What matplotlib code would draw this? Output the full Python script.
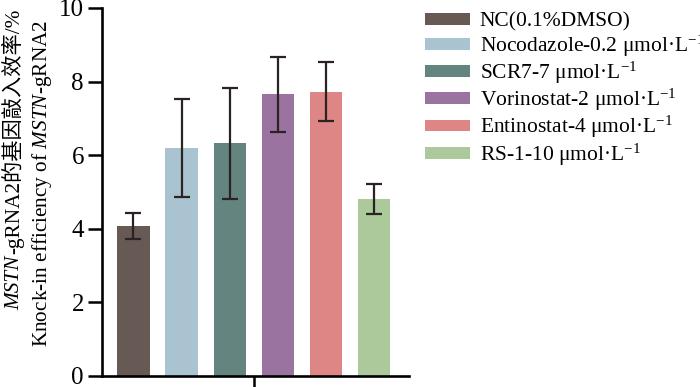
import numpy as np
import matplotlib
matplotlib.use('Agg')
import matplotlib.pyplot as plt

plt.rcParams['font.family'] = ['Liberation Serif', 'DejaVu Serif', 'Noto Sans CJK SC']
plt.rcParams['mathtext.fontset'] = 'custom'
plt.rcParams['mathtext.rm'] = 'Liberation Serif'
plt.rcParams['mathtext.it'] = 'Liberation Serif:italic'

# data
groups = ['NC(0.1%DMSO)',
          'Nocodazole-0.2 μmol·L$^{-1}$',
          'SCR7-7 μmol·L$^{-1}$',
          'Vorinostat-2 μmol·L$^{-1}$',
          'Entinostat-4 μmol·L$^{-1}$',
          'RS-1-10 μmol·L$^{-1}$']
means = [4.08, 6.20, 6.32, 7.65, 7.72, 4.81]
errs = [0.36, 1.33, 1.50, 1.01, 0.80, 0.40]
colors = ['#675a55', '#a9c3d1', '#648480', '#9a73a0', '#de8585', '#abc99b']
yticks = [0, 2, 4, 6, 8, 10]

fig = plt.figure(figsize=(7, 3.87), dpi=100)
ax = fig.add_axes([102 / 700, 11 / 387, 307 / 700, 368 / 387])

x = np.arange(len(means))
for i in range(len(means)):
    ax.bar(x[i], means[i], width=0.67, color=colors[i], label=groups[i], zorder=2)
ax.errorbar(x, means, yerr=errs, fmt='none', ecolor='#2b2222',
            elinewidth=1.6, capsize=6, capthick=1.6, zorder=3)

ax.set_xlim(-0.655, 5.73)
ax.set_ylim(0, 10)
ax.set_yticks(yticks)
ax.set_yticklabels([str(t) for t in yticks], fontsize=18)
ax.set_xticks([2.5])
ax.set_xticklabels([''])
ax.tick_params(axis='y', direction='out', length=10, width=1.8, pad=3, colors='black')
ax.tick_params(axis='x', direction='out', length=8, width=1.8)
for s in ['top', 'right']:
    ax.spines[s].set_visible(False)
for s in ['left', 'bottom']:
    ax.spines[s].set_linewidth(1.9)

ax.legend(loc='upper left', bbox_to_anchor=(425 / 700, 1 - 12 / 387),
          bbox_transform=fig.transFigure, frameon=False, borderpad=0,
          borderaxespad=0, handlelength=2.1, handleheight=0.47,
          handletextpad=0.45, labelspacing=0.05, fontsize=15.5)

# y label, two lines; line 1 mixes italic gene name and Chinese
fs = 15.3
first = ax.annotate('MSTN', xy=(19 / 700, 0.2), xycoords='figure fraction',
                    rotation=90, rotation_mode='anchor', ha='left', va='baseline',
                    fontsize=fs, style='italic', annotation_clip=False)
rest = ax.annotate('-gRNA2的基因敲入效率/%', xy=(19 / 700, 1.0),
                   xycoords=(fig.transFigure, first), xytext=(0, 1),
                   textcoords='offset points', rotation=90, rotation_mode='anchor',
                   ha='left', va='baseline', fontsize=fs, annotation_clip=False)
fig.canvas.draw()
r = fig.canvas.get_renderer()
y0 = first.get_window_extent(r).y0
y1 = rest.get_window_extent(r).y1
yc = (387 - 183.5) * fig.dpi / 100
first.xy = (19 / 700, (0.2 * fig.bbox.height + yc - (y0 + y1) / 2) / fig.bbox.height)

fig.text(47 / 700, 1 - 183.5 / 387, r'Knock-in efficiency of $\mathit{MSTN}$-gRNA2',
         rotation=90, rotation_mode='anchor', ha='center', va='baseline', fontsize=fs)

fig.savefig('out.png', dpi=100)
